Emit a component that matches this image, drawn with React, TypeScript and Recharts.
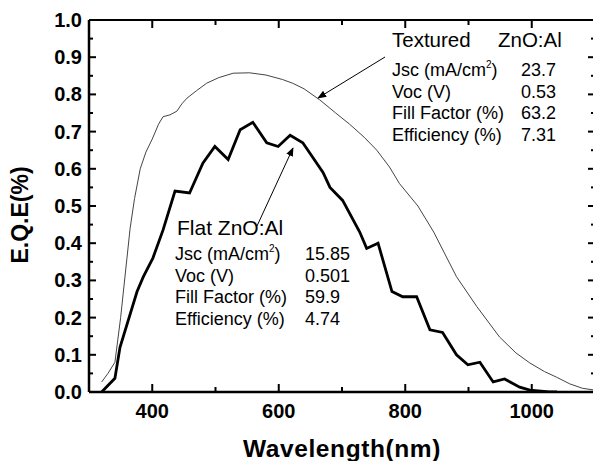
import { LineChart, Line, XAxis, YAxis } from "recharts"

const texturedWavelength = [320, 330, 341, 350, 360, 365, 372, 381, 390, 400, 410, 417, 428, 439, 447, 455, 470, 486, 505, 528, 554, 580, 606, 622, 640, 665, 690, 712, 735, 755, 775, 791, 820, 845, 881, 913, 949, 975, 997, 1020, 1039, 1060, 1080, 1100]
const texturedEqe = [0.027, 0.05, 0.08, 0.2, 0.36, 0.44, 0.52, 0.6, 0.645, 0.68, 0.72, 0.74, 0.745, 0.755, 0.775, 0.79, 0.81, 0.83, 0.845, 0.857, 0.858, 0.852, 0.84, 0.83, 0.815, 0.785, 0.75, 0.72, 0.685, 0.65, 0.605, 0.56, 0.5, 0.43, 0.31, 0.23, 0.148, 0.105, 0.078, 0.055, 0.04, 0.022, 0.01, 0.005]

const flatWavelength = [320, 341, 349, 376, 386, 401, 417, 436, 459, 480, 499, 520, 539, 559, 581, 599, 618, 638, 670, 681, 701, 728, 739, 757, 779, 796, 818, 839, 859, 881, 899, 918, 939, 957, 981, 997, 1028, 1040]
const flatEqe = [0, 0.037, 0.12, 0.27, 0.31, 0.36, 0.435, 0.54, 0.535, 0.615, 0.66, 0.625, 0.705, 0.725, 0.67, 0.66, 0.69, 0.67, 0.59, 0.55, 0.515, 0.43, 0.386, 0.4, 0.27, 0.256, 0.256, 0.167, 0.16, 0.1, 0.073, 0.08, 0.027, 0.035, 0.013, 0.005, 0, 0]

const xTicks = [300, 400, 500, 600, 700, 800, 900, 1000, 1100]
const xLabels = [400, 600, 800, 1000]
const yTicks = [0, 0.05, 0.1, 0.15, 0.2, 0.25, 0.3, 0.35, 0.4, 0.45, 0.5, 0.55, 0.6, 0.65, 0.7, 0.75, 0.8, 0.85, 0.9, 0.95, 1.0]

const texturedRows = [
    ["Jsc (mA/cm", "23.7"],
    ["Voc (V)", "0.53"],
    ["Fill Factor (%)", "63.2"],
    ["Efficiency (%)", "7.31"],
]
const flatRows = [
    ["Jsc (mA/cm", "15.85"],
    ["Voc (V)", "0.501"],
    ["Fill Factor (%)", "59.9"],
    ["Efficiency (%)", "4.74"],
]

const textured = texturedWavelength.map((w, i) => ({ w, v: texturedEqe[i] }))
const flat = flatWavelength.map((w, i) => ({ w, v: flatEqe[i] }))

const font = "'Liberation Sans', Arial, sans-serif"

const isMajorY = (v: number) => Math.abs(v * 10 - Math.round(v * 10)) < 1e-6

// tick marks point into the plot, drawn as small filled rects
function BottomTick(props: any) {
    const { x, y, payload } = props
    const v = payload.value
    const len = v % 200 === 0 ? 8 : 5
    return (
        <g>
            <rect x={Number(x) - 1} y={Number(y) - len} width={2} height={len} fill="#000" />
            {xLabels.includes(v) && (
                <text x={x} y={Number(y) + 26} textAnchor="middle" fontSize={20} fontWeight="bold" fontFamily={font} fill="#000">
                    {v}
                </text>
            )}
        </g>
    )
}

function TopTick(props: any) {
    const { x, y, payload } = props
    const len = payload.value % 200 === 0 ? 8 : 5
    return <rect x={Number(x) - 1} y={Number(y)} width={2} height={len} fill="#000" />
}

function LeftTick(props: any) {
    const { x, y, payload } = props
    const v = payload.value
    const major = isMajorY(v)
    return (
        <g>
            <rect x={Number(x)} y={Number(y) - 1} width={major ? 7 : 4} height={2} fill="#000" />
            {major && (
                <text x={Number(x) - 7} y={Number(y) + 7} textAnchor="end" fontSize={20} fontWeight="bold" fontFamily={font} fill="#000">
                    {v.toFixed(1)}
                </text>
            )}
        </g>
    )
}

function RightTick(props: any) {
    const { x, y, payload } = props
    const len = isMajorY(payload.value) ? 7 : 4
    return <rect x={Number(x) - len} y={Number(y) - 1} width={len} height={2} fill="#000" />
}

function Annotations() {
    return (
        <svg width={593} height={461} style={{ position: "absolute", left: 0, top: 0, pointerEvents: "none" }}>
            <defs>
                <marker id="head" viewBox="0 0 10 10" refX="9" refY="5" markerWidth="9" markerHeight="9" orient="auto">
                    <path d="M0,1 L10,5 L0,9 z" fill="#000" />
                </marker>
            </defs>
            <g fontFamily={font} fill="#000">
                <text x={392} y={47} fontSize={20.5}>Textured</text>
                <text x={498} y={47} fontSize={20.5}>ZnO:Al</text>
                {texturedRows.map((r, i) => (
                    <g key={r[0]}>
                        <text x={392} y={76 + i * 21.7} fontSize={18}>
                            {r[0]}
                            {i === 0 && (
                                <>
                                    <tspan fontSize={10} dy={-8}>2</tspan>
                                    <tspan dy={8}>)</tspan>
                                </>
                            )}
                        </text>
                        <text x={521} y={76 + i * 21.7} fontSize={18}>{r[1]}</text>
                    </g>
                ))}
                <text x={177} y={235} fontSize={21}>Flat ZnO:Al</text>
                {flatRows.map((r, i) => (
                    <g key={r[0]}>
                        <text x={175} y={260 + i * 21.7} fontSize={18}>
                            {r[0]}
                            {i === 0 && (
                                <>
                                    <tspan fontSize={10} dy={-8}>2</tspan>
                                    <tspan dy={8}>)</tspan>
                                </>
                            )}
                        </text>
                        <text x={305} y={260 + i * 21.7} fontSize={18}>{r[1]}</text>
                    </g>
                ))}
                <text x={0} y={0} transform="translate(28, 215) rotate(-90)" textAnchor="middle" fontSize={23} fontWeight="bold">
                    E.Q.E(%)
                </text>
            </g>
            <line x1={385} y1={57} x2={318} y2={98} stroke="#000" strokeWidth={1} markerEnd="url(#head)" />
            <line x1={257} y1={226} x2={293} y2={148} stroke="#000" strokeWidth={1} markerEnd="url(#head)" />
        </svg>
    )
}

export default function App() {
    return (
        <div style={{ position: "absolute", left: 0, top: 0, width: 593, height: 461, overflow: "hidden", background: "#fff" }}>
            <LineChart width={640} height={461} margin={{ top: 19, right: 44, bottom: 19, left: 0 }}>
                <XAxis
                    dataKey="w"
                    type="number"
                    domain={[300, 1100]}
                    ticks={xTicks}
                    interval={0}
                    allowDataOverflow
                    height={50}
                    tickSize={0}
                    tickMargin={0}
                    tickLine={false}
                    axisLine={{ stroke: "#000", strokeWidth: 2.5 }}
                    tick={<BottomTick />}
                    label={{ value: "Wavelength(nm)", position: "insideBottom", offset: -15, fontSize: 24.5, fontWeight: "bold", fontFamily: font, fill: "#000", letterSpacing: 0.6 }}
                />
                <XAxis
                    xAxisId="top"
                    dataKey="w"
                    orientation="top"
                    type="number"
                    domain={[300, 1100]}
                    ticks={xTicks}
                    interval={0}
                    allowDataOverflow
                    height={1}
                    tickSize={0}
                    tickMargin={0}
                    tickLine={false}
                    axisLine={{ stroke: "#000", strokeWidth: 2 }}
                    tick={<TopTick />}
                />
                <YAxis
                    type="number"
                    domain={[0, 1]}
                    ticks={yTicks}
                    interval={0}
                    allowDataOverflow
                    width={89}
                    tickSize={0}
                    tickMargin={0}
                    tickLine={false}
                    axisLine={{ stroke: "#000", strokeWidth: 2.5 }}
                    tick={<LeftTick />}
                />
                <YAxis
                    yAxisId="right"
                    orientation="right"
                    type="number"
                    domain={[0, 1]}
                    ticks={yTicks}
                    interval={0}
                    allowDataOverflow
                    width={1}
                    tickSize={0}
                    tickMargin={0}
                    tickLine={false}
                    axisLine={{ stroke: "#000", strokeWidth: 2 }}
                    tick={<RightTick />}
                />
                <Line xAxisId="top" yAxisId="right" data={textured} dataKey="v" type="linear" stroke="#444" strokeWidth={1} dot={false} isAnimationActive={false} />
                <Line data={flat} dataKey="v" type="linear" stroke="#000" strokeWidth={2.8} dot={false} isAnimationActive={false} />
            </LineChart>
            <Annotations />
        </div>
    )
}
